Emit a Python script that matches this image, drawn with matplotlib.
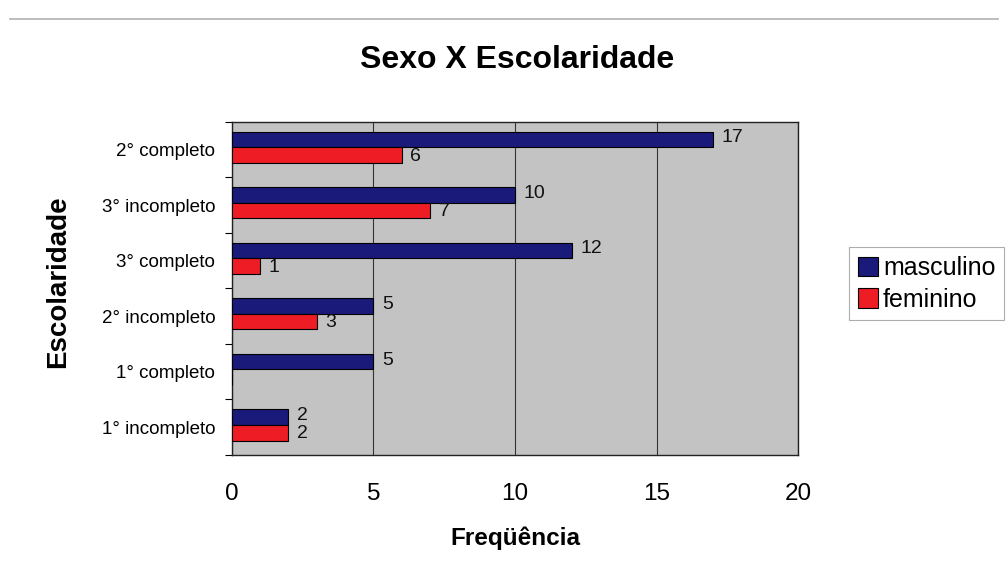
import numpy as np
import matplotlib
matplotlib.use("Agg")
import matplotlib.pyplot as plt

plt.rcParams['font.family'] = ['Liberation Sans', 'DejaVu Sans']

categorias = ["1° incompleto", "1° completo", "2° incompleto",
              "3° completo", "3° incompleto", "2° completo"]
masculino = [2, 5, 5, 12, 10, 17]
feminino = [2, 0, 3, 1, 7, 6]

cor_masc = "#1a1a7a"
cor_fem = "#ee1c24"

fig = plt.figure(figsize=(10.08, 5.83), dpi=100)
ax = fig.add_axes([0.230, 0.2196, 0.562, 0.5714])

y = np.arange(len(categorias))
h = 0.28
off = 0.04
bm = ax.barh(y + h / 2 + off, masculino, height=h, color=cor_masc, edgecolor="black",
             linewidth=0.8, label="masculino", zorder=3)
bf = ax.barh(y - h / 2 + off, feminino, height=h, color=cor_fem, edgecolor="black",
             linewidth=0.8, label="feminino", zorder=3)

for rect, v in zip(bm, masculino):
    ax.text(v + 0.3, rect.get_y() + rect.get_height() / 2 + 0.03, str(v),
            va="center", ha="left", fontsize=14, color="#111111", zorder=4)
for rect, v in zip(bf, feminino):
    if v == 0:
        continue
    ax.text(v + 0.3, rect.get_y() + rect.get_height() / 2 - 0.02, str(v),
            va="center", ha="left", fontsize=14, color="#111111", zorder=4)

ax.set_xlim(0, 20)
ax.set_ylim(-0.5, len(categorias) - 0.5)
ax.set_facecolor("#c3c3c3")
ax.set_xticks([0, 5, 10, 15, 20])
ax.set_xticklabels(["0", "5", "10", "15", "20"], fontsize=17.5)
ax.set_yticks(y)
ax.set_yticklabels(categorias, fontsize=13.5)
ax.tick_params(axis="x", length=0, pad=20)
ax.set_yticks(np.arange(-0.5, len(categorias), 1), minor=True)
ax.tick_params(axis="y", which="minor", length=5, width=0.8)
ax.tick_params(axis="y", which="major", length=0, pad=12)
ax.grid(axis="x", color="#333333", linewidth=0.8, zorder=1)
for s in ax.spines.values():
    s.set_color("#222222")
    s.set_linewidth(1.0)

ax.set_xlabel("Freqüência", fontsize=17.5, fontweight="bold")
ax.xaxis.set_label_coords(0.5, -0.215)
ax.set_ylabel("Escolaridade", fontsize=20, fontweight="bold")
ax.yaxis.set_label_coords(-0.283, 0.52)
fig.text(0.513, 0.897, "Sexo X Escolaridade", ha="center", va="center",
         fontsize=23, fontweight="bold")

leg = fig.legend(handles=[bm, bf], loc="upper left",
                 bbox_to_anchor=(0.83, 0.597), frameon=True, fontsize=18,
                 handlelength=0.8, handleheight=0.8, handletextpad=0.2,
                 borderpad=0.35, labelspacing=0.3, fancybox=False)
leg.get_frame().set_edgecolor("#999999")
leg.get_frame().set_linewidth(0.8)

fig.add_artist(plt.Line2D([0.01, 0.99], [0.968, 0.968], transform=fig.transFigure,
                          color="#b0b0b0", linewidth=1.2))

fig.savefig("out.png", dpi=100)
